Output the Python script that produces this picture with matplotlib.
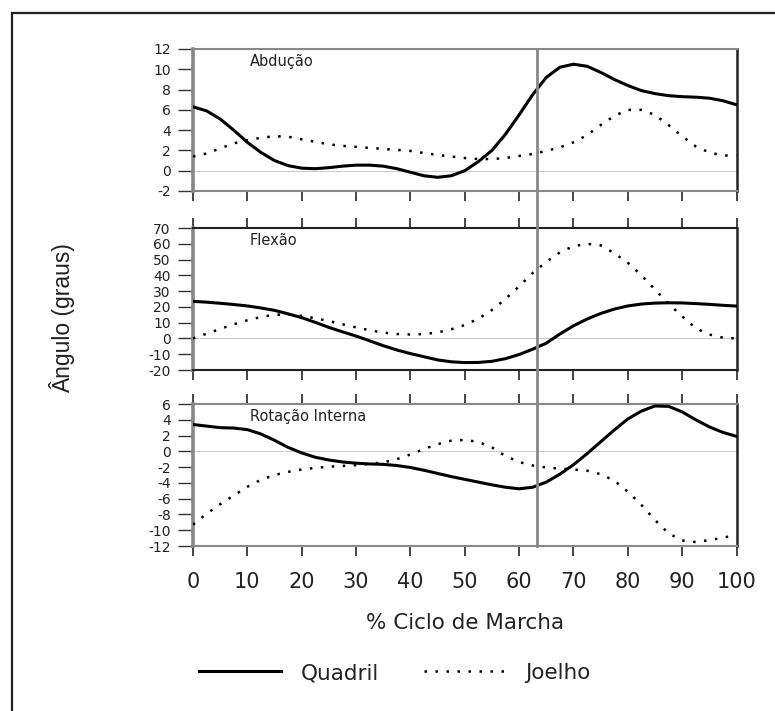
import matplotlib
matplotlib.use("Agg")
import matplotlib.pyplot as plt
from matplotlib import transforms
from matplotlib.lines import Line2D
from matplotlib.patches import Rectangle
import numpy as np

plt.rcParams["font.family"] = ["DejaVu Sans"]
plt.rcParams["axes.unicode_minus"] = False

# % of gait cycle
pct = np.arange(0, 100.1, 2.5)

abd_quadril = [6.3, 5.9, 5.1, 4.0, 2.8, 1.8, 1.0, 0.5, 0.25, 0.2, 0.3, 0.45, 0.55, 0.55,
               0.45, 0.2, -0.15, -0.5, -0.65, -0.5, 0.0, 0.9, 2.0, 3.6, 5.5, 7.5, 9.2,
               10.2, 10.5, 10.3, 9.7, 9.0, 8.4, 7.9, 7.6, 7.4, 7.3, 7.25, 7.15, 6.9, 6.5]
abd_joelho = [1.4, 1.7, 2.2, 2.7, 3.0, 3.25, 3.4, 3.35, 3.1, 2.85, 2.6, 2.45, 2.35, 2.25,
              2.15, 2.05, 1.95, 1.75, 1.55, 1.4, 1.25, 1.15, 1.15, 1.25, 1.45, 1.65, 1.95,
              2.3, 2.8, 3.5, 4.5, 5.4, 6.0, 6.0, 5.5, 4.5, 3.4, 2.4, 1.8, 1.5, 1.5]

flex_quadril = [23.5, 23.0, 22.3, 21.5, 20.6, 19.3, 17.8, 15.6, 13.2, 10.2, 7.0, 4.2, 1.5,
                -1.5, -4.6, -7.3, -9.6, -11.6, -13.6, -14.8, -15.3, -15.2, -14.5, -12.8,
                -10.2, -6.8, -3.0, 2.8, 8.0, 12.3, 15.8, 18.6, 20.6, 21.8, 22.4, 22.6,
                22.5, 22.1, 21.6, 21.0, 20.5]
flex_joelho = [0.0, 3.0, 6.0, 9.0, 11.5, 13.6, 15.0, 15.2, 14.3, 12.8, 11.0, 9.0, 7.0, 5.2,
               3.7, 2.8, 2.5, 2.8, 3.8, 5.8, 8.5, 12.5, 18.0, 25.0, 33.0, 41.5, 48.5, 54.5,
               58.5, 60.0, 59.0, 54.0, 48.0, 40.0, 31.0, 22.0, 14.0, 6.5, 2.5, 0.5, 0.0]

rot_quadril = [3.4, 3.2, 3.0, 2.95, 2.75, 2.2, 1.4, 0.5, -0.2, -0.75, -1.1, -1.35, -1.5,
               -1.6, -1.65, -1.8, -2.05, -2.4, -2.8, -3.2, -3.55, -3.9, -4.25, -4.55, -4.75,
               -4.55, -3.9, -2.9, -1.7, -0.3, 1.2, 2.7, 4.1, 5.1, 5.75, 5.7, 5.0, 4.0, 3.1,
               2.4, 1.9]
rot_joelho = [-9.3, -7.9, -6.7, -5.6, -4.5, -3.6, -3.0, -2.6, -2.3, -2.1, -1.95, -1.85,
              -1.75, -1.6, -1.4, -1.0, -0.4, 0.3, 0.9, 1.35, 1.45, 1.2, 0.5, -0.6, -1.35,
              -1.8, -2.05, -2.2, -2.3, -2.45, -2.9, -3.7, -5.1, -6.8, -8.7, -10.4, -11.3,
              -11.5, -11.25, -10.95, -10.6]

panel_titles = ["Abdução", "Flexão", "Rotação Interna"]
panel_ylims = [(-2, 12), (-20, 70), (-12, 6)]
panel_yticks = [np.arange(-2, 13, 2), np.arange(-20, 71, 10), np.arange(-12, 7, 2)]
toe_off = 63.3

W, H = 775, 711
fig = plt.figure(figsize=(W / 100, H / 100), dpi=100)

# outer frame (only top/left edges visible in the source scan)
fig.add_artist(Rectangle((12 / W, -0.2), 1.2, 1.2 - 13 / H, transform=fig.transFigure,
                         fill=False, lw=1.6, edgecolor="#222"))

left, width = 193 / W, 543.5 / W
tops = [49, 228, 404]
ph = 142
axes = []
series = [(abd_quadril, abd_joelho), (flex_quadril, flex_joelho), (rot_quadril, rot_joelho)]
for i, top in enumerate(tops):
    ax = fig.add_axes([left, 1 - (top + ph) / H, width, ph / H])
    q, j = series[i]
    ax.axhline(0, color="#cccccc", lw=0.8, zorder=1)
    ax.plot(pct, q, color="black", lw=2.2, solid_capstyle="round", zorder=3)
    ax.plot(pct, j, color="black", lw=1.8, linestyle=(0, (1, 3.4)), zorder=3)
    ax.set_xlim(0, 100)
    ax.set_ylim(*panel_ylims[i])
    ax.set_yticks(panel_yticks[i])
    ax.set_xticks(np.arange(0, 101, 10))
    ax.tick_params(axis="y", direction="out", length=11, width=1.0, color="#333",
                   labelsize=10, pad=5, labelcolor="#222")
    ax.tick_params(axis="x", direction="out", length=7, width=1.4, color="#444",
                   top=(i > 0), bottom=True, labelbottom=(i == 2), labelsize=15,
                   pad=12, labelcolor="#222")
    mid = (i == 1)
    ax.spines["left"].set_color("#888")
    ax.spines["left"].set_linewidth(2.6)
    ax.spines["right"].set_color("#222")
    ax.spines["right"].set_linewidth(1.8)
    for s in ("top", "bottom"):
        ax.spines[s].set_color("#222" if mid else "#888")
        ax.spines[s].set_linewidth(1.5)
    ax.text(0.105, 0.91, panel_titles[i], transform=ax.transAxes, fontsize=10.5,
            ha="left", va="center", color="#222")
    axes.append(ax)

axes[2].set_xlabel("% Ciclo de Marcha", fontsize=15.5, labelpad=15, color="#222")

# toe-off line running across all three panels
tr = transforms.blended_transform_factory(axes[2].transData, fig.transFigure)
fig.add_artist(Line2D([toe_off, toe_off], [1 - 546 / H, 1 - 49 / H], transform=tr,
                      color="#888", lw=2.0, zorder=5))

fig.text(62 / W, 1 - 318 / H, "Ângulo (graus)", rotation=90, ha="center", va="center",
         fontsize=16.5, family="Liberation Sans", color="#222")

handles = [Line2D([], [], color="black", lw=2.2),
           Line2D([], [], color="black", lw=1.8, linestyle=(0, (1, 3.4)))]
fig.legend(handles, ["Quadril", "Joelho"], loc="center", ncol=2, frameon=False,
           bbox_to_anchor=(395 / W, 1 - 673 / H), fontsize=15.5, handlelength=3.8,
           handletextpad=0.9, columnspacing=2.1, labelcolor="#222")

fig.savefig("out.png", dpi=100, facecolor="white")
